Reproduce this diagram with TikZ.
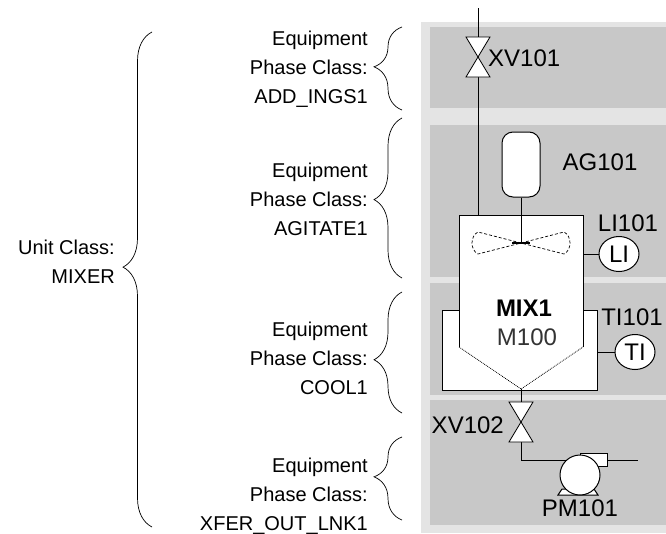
\documentclass[tikz,border=0pt]{standalone}
\usepackage{fontspec}
\setmainfont{Liberation Sans}
\usetikzlibrary{decorations.pathreplacing,shapes.geometric}
\definecolor{panelLight}{RGB}{228,228,228}
\definecolor{panelDark}{RGB}{200,200,200}

\tikzset{valve/.pic={\draw[fill=white,line width=0.8pt] (-12,-20) -- (12,-20) -- (-12,20) -- (12,20) -- cycle;}}

\begin{document}
\begin{tikzpicture}[x=1pt,y=-1pt]
    \tikzstyle{lbl}=[align=right,anchor=east,inner sep=0pt,font=\fontsize{20}{29}\selectfont]
    \tikzstyle{tag}=[inner sep=0pt,font=\fontsize{24}{26}\selectfont]
    \tikzstyle{grp}=[decorate,decoration={brace,amplitude=28pt},line width=0.7pt]
    \tikzstyle{pipe}=[line width=1pt]
    \tikzstyle{instr}=[ellipse,draw,fill=white,line width=1pt,minimum width=40pt,minimum height=35pt,inner sep=0pt,font=\fontsize{24}{24}\selectfont]
    \useasboundingbox (0,0) rectangle (666,533);

    % panels
    \fill[panelLight] (421,22) rectangle (666,533);
    \fill[panelDark] (430,27) rectangle (666,108);
    \fill[panelDark] (430,125) rectangle (666,277);
    \fill[panelDark] (430,283) rectangle (666,395);
    \fill[panelDark] (430,400) rectangle (666,525);

    % class texts and braces
    \node[lbl] (unitCls) at (115,262) {Unit Class:\\MIXER};
    \node[lbl] (phAdd) at (368,69) {Equipment\\Phase Class:\\ADD\_INGS1};
    \node[lbl] (phAgit) at (368,199) {Equipment\\Phase Class:\\AGITATE1};
    \node[lbl] (phCool) at (368,358) {Equipment\\Phase Class:\\COOL1};
    \node[lbl] (phXfer) at (368,496) {Equipment\\Phase Class:\\XFER\_OUT\_LNK1};
    \draw[grp,decoration={amplitude=29pt,aspect=0.525}] (152,527) -- (152,32);
    \draw[grp,decoration={aspect=0.52}] (402,110) -- (402,27);
    \draw[grp,decoration={aspect=0.49}] (402,278) -- (402,118);
    \draw[grp,decoration={aspect=0.44}] (402,413) -- (402,292);
    \draw[grp,decoration={aspect=0.52}] (402,520) -- (402,437);

    % feed line and vessel
    \coordinate (feedTop) at (478,8);
    \coordinate (xv101) at (478,57);
    \coordinate (feedIn) at (478,215);
    \draw[pipe] (feedTop) -- (feedIn);
    \pic at (xv101) {valve};
    \node[tag,anchor=west] (xv101Lbl) at (488,58) {XV101};

    \draw[pipe,fill=white] (442,310) rectangle (597,390);
    \fill[white] (459,215) -- (583,215) -- (583,347) -- (521,389) -- (459,347) -- cycle;
    \draw[pipe] (459,347) -- (459,215) -- (583,215) -- (583,347);
    \draw[densely dotted,line width=0.8pt] (459,347) -- (521,389) -- (583,347);
    \node[font=\fontsize{24}{26}\selectfont\bfseries,inner sep=0pt] (mix1) at (524,308) {MIX1};
    \node[tag,text=black!80] (m100) at (527,337) {M100};

    % agitator
    \node[draw,fill=white,rounded corners=11pt,line width=1pt,minimum width=38pt,minimum height=65pt] (ag101) at (521,164.5) {};
    \node[tag] (ag101Lbl) at (600,162) {AG101};
    \coordinate (hub) at (521,243);
    \draw[pipe] (ag101.south) -- (hub);
    \draw[densely dashed,line width=0.7pt] (hub) -- (478,232) .. controls (470,236) and (470,250) .. (478,254) -- cycle;
    \draw[densely dashed,line width=0.7pt] (hub) -- (564,232) .. controls (572,236) and (572,250) .. (564,254) -- cycle;
    \draw[line width=2.5pt] (512,243) -- (530,243);

    % instruments
    \node[instr] (li101) at (619,254) {LI};
    \node[tag] (li101Lbl) at (628,223) {LI101};
    \coordinate (tankSide) at (583,254);
    \draw[pipe] (tankSide) -- (li101.west);
    \node[instr] (ti101) at (635,352) {TI};
    \node[tag] (ti101Lbl) at (632,317) {TI101};
    \coordinate (jacketSide) at (597,352);
    \draw[pipe] (jacketSide) -- (ti101.west);

    % outlet and pump
    \coordinate (apex) at (521,389);
    \coordinate (xv102) at (521,422);
    \coordinate (bend) at (521,460);
    \coordinate (pumpC) at (580,475);
    \draw[pipe] (apex) -- (xv102) -- (bend) -- (bend -| pumpC);
    \pic at (xv102) {valve};
    \node[tag,anchor=east] (xv102Lbl) at (504,425) {XV102};
    \draw[pipe,fill=white] (580,453) rectangle (607,466);
    \draw[pipe] (607,460) -- (638,460);
    \draw[pipe,fill=white] (562,489) -- (594,489) -- (598,495) -- (558,495) -- cycle;
    \node[circle,draw,fill=white,line width=1pt,minimum size=40pt,inner sep=0pt] (pm101) at (pumpC) {};
    \node[tag] (pm101Lbl) at (580,508) {PM101};
\end{tikzpicture}
\end{document}
